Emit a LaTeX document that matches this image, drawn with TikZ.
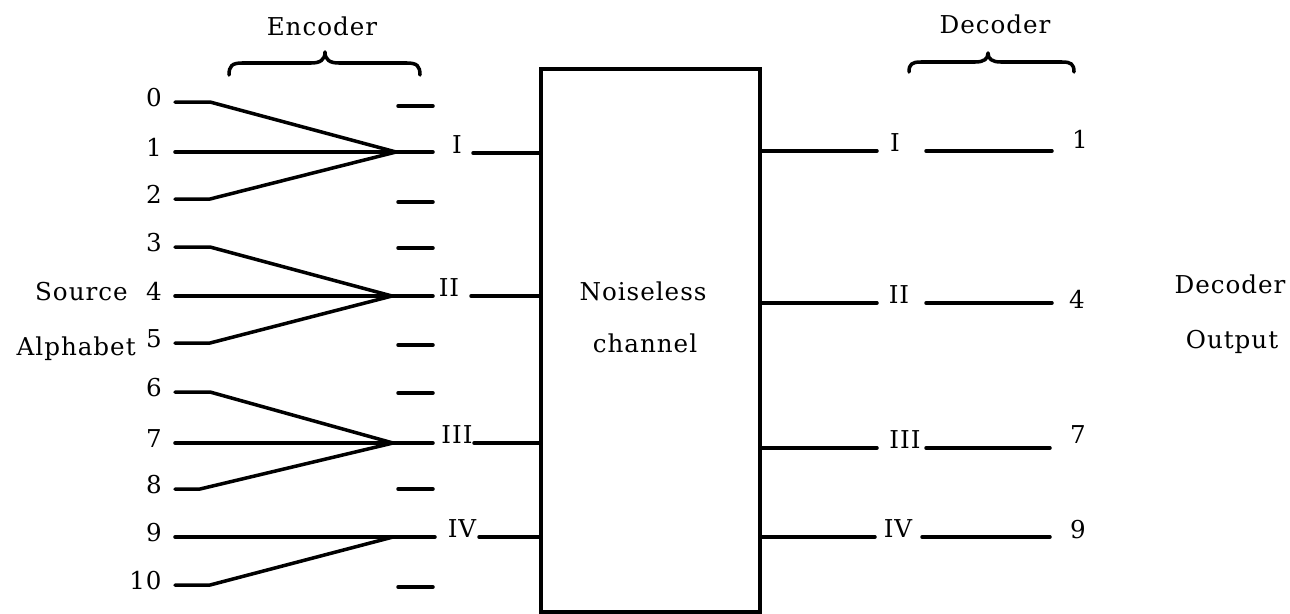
\documentclass[tikz,border=0pt]{standalone}
\usepackage{fontspec}
\setmainfont{DejaVu Serif}[LetterSpace=4]
\newcommand\lbsize{\fontsize{14}{16}\selectfont}
\begin{document}
\begin{tikzpicture}[x=0.02cm,y=-0.02cm,
  txt/.style={font=\lbsize, inner sep=0pt},
  wire/.style={line width=2pt, line cap=round, line join=round},
  chanbox/.style={draw, line width=2pt, minimum width=4.38cm, minimum height=10.86cm, inner sep=0pt}]
\useasboundingbox (0,0) rectangle (1290,613);

% ---------- source alphabet ----------
\foreach \n/\y in {0/102,1/152,2/199,3/247,4/296,5/343,6/392,7/443,8/489,9/537,10/585}{
  \node[txt, anchor=base east] (n\n) at (162,\y+4) {\n};
  \coordinate (s\n) at (175,\y);
  \coordinate (k\n) at (210,\y);
}
\coordinate (k8) at (200,489);
\node[txt, anchor=base east] (src) at (128,300) {Source};
\node[txt, anchor=base east] (alph) at (136,355) {Alphabet};

% ---------- encoder fans ----------
\coordinate (cI) at (396,152);   \coordinate (eI) at (433,152);
\coordinate (cII) at (392,296);  \coordinate (eII) at (433,296);
\coordinate (cIII) at (393,443); \coordinate (eIII) at (433,443);
\coordinate (cIV) at (393,537);  \coordinate (eIV) at (435,537);

\draw[wire] (s0) -- (k0) -- (cI);
\draw[wire] (s1) -- (eI);
\draw[wire] (s2) -- (k2) -- (cI);
\draw[wire] (s3) -- (k3) -- (cII);
\draw[wire] (s4) -- (eII);
\draw[wire] (s5) -- (k5) -- (cII);
\draw[wire] (s6) -- (k6) -- (cIII);
\draw[wire] (s7) -- (eIII);
\draw[wire] (s8) -- (k8) -- (cIII);
\draw[wire] (s9) -- (eIV);
\draw[wire] (s10) -- (k10) -- (cIV);

% unused code slots
\foreach \y in {106,202,248,345,393,489,587}{
  \draw[wire] (398,\y) -- (433,\y);
}

% encoder brace and label
\draw[wire] (229,75) .. controls (229,66) and (232,63) .. (242,63) -- (311,63)
  .. controls (320,63) and (325,60) .. (325,52)
  .. controls (325,60) and (330,63) .. (339,63) -- (407,63)
  .. controls (417,63) and (420,66) .. (420,75);
\node[txt, anchor=base] (enc) at (322,35) {Encoder};

% ---------- channel ----------
\node[chanbox] (box) at (650.5,340.5) {};
\node[txt, anchor=base] (noise1) at (643,300) {Noiseless};
\node[txt, anchor=base] (noise2) at (645,352) {channel};

% encoder outputs
\node[txt, anchor=base] (lI) at (457,153) {I};
\node[txt, anchor=base] (lII) at (449,296) {II};
\node[txt, anchor=base] (lIII) at (457,443) {III};
\node[txt, anchor=base] (lIV) at (462,537) {IV};
\coordinate (aI) at (473,153);
\coordinate (aII) at (471,296);
\coordinate (aIII) at (474,443);
\coordinate (aIV) at (479,537);
\draw[wire] (aI) -- (aI -| box.west);
\draw[wire] (aII) -- (aII -| box.west);
\draw[wire] (aIII) -- (aIII -| box.west);
\draw[wire] (aIV) -- (aIV -| box.west);

% ---------- decoder side ----------
\coordinate (bI) at (877,151);
\coordinate (bII) at (877,303);
\coordinate (bIII) at (877,448);
\coordinate (bIV) at (875,537);
\draw[wire] (bI -| box.east) -- (bI);
\draw[wire] (bII -| box.east) -- (bII);
\draw[wire] (bIII -| box.east) -- (bIII);
\draw[wire] (bIV -| box.east) -- (bIV);

\node[txt, anchor=base] (rI) at (895,151) {I};
\node[txt, anchor=base] (rII) at (899,303) {II};
\node[txt, anchor=base] (rIII) at (905,448) {III};
\node[txt, anchor=base] (rIV) at (898,537) {IV};

\coordinate (dI1) at (926,151);   \coordinate (dI2) at (1052,151);
\coordinate (dII1) at (926,303);  \coordinate (dII2) at (1052,303);
\coordinate (dIII1) at (926,448); \coordinate (dIII2) at (1050,448);
\coordinate (dIV1) at (922,537);  \coordinate (dIV2) at (1050,537);
\draw[wire] (dI1) -- (dI2);
\draw[wire] (dII1) -- (dII2);
\draw[wire] (dIII1) -- (dIII2);
\draw[wire] (dIV1) -- (dIV2);

\node[txt, anchor=base] (o1) at (1080,148) {1};
\node[txt, anchor=base] (o4) at (1077,308) {4};
\node[txt, anchor=base] (o7) at (1078,443) {7};
\node[txt, anchor=base] (o9) at (1078,538) {9};

% decoder brace and label
\draw[wire] (909,72) .. controls (909,64) and (912,62) .. (921,62) -- (975,62)
  .. controls (984,62) and (988,59) .. (988,53)
  .. controls (988,59) and (992,62) .. (1001,62) -- (1062,62)
  .. controls (1071,62) and (1074,64) .. (1074,72);
\node[txt, anchor=base] (dec) at (995,33) {Decoder};

\node[txt, anchor=base] (decout1) at (1230,293) {Decoder};
\node[txt, anchor=base] (decout2) at (1232,348) {Output};
\end{tikzpicture}
\end{document}
